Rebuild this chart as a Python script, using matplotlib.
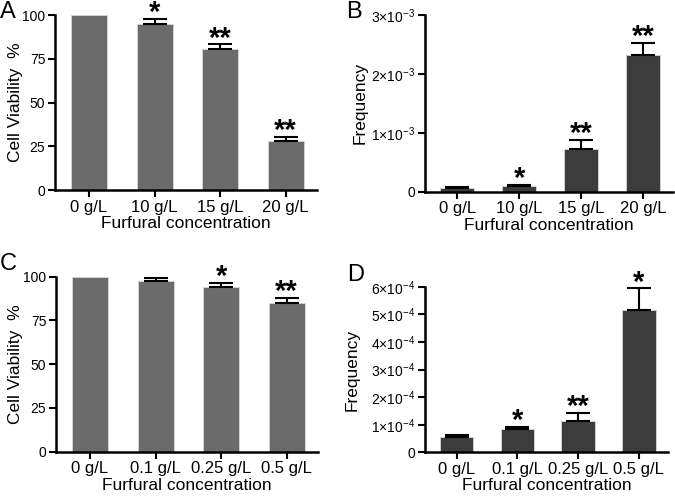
import matplotlib
matplotlib.use("Agg")
import matplotlib.pyplot as plt
import numpy as np

plt.rcParams['font.family'] = ['Liberation Sans', 'DejaVu Sans']
plt.rcParams['mathtext.fontset'] = 'custom'
plt.rcParams['mathtext.rm'] = 'Liberation Sans'
plt.rcParams['mathtext.it'] = 'Liberation Sans:italic'
plt.rcParams['mathtext.bf'] = 'Liberation Sans:bold'

# Data
cats_AB = ["0 g/L", "10 g/L", "15 g/L", "20 g/L"]
cats_CD = ["0 g/L", "0.1 g/L", "0.25 g/L", "0.5 g/L"]

viab_A = [100, 94.9, 80.8, 28.2]
err_A = [0, 2.8, 2.4, 2.3]
sig_A = ["", "*", "**", "**"]

freq_B = [0.058e-3, 0.10e-3, 0.725e-3, 2.32e-3]
err_B = [0.017e-3, 0.02e-3, 0.155e-3, 0.21e-3]
sig_B = ["", "*", "**", "**"]

viab_C = [100, 97.7, 94.3, 84.8]
err_C = [0, 1.5, 1.9, 3.2]
sig_C = ["", "", "*", "**"]

freq_D = [0.54e-4, 0.83e-4, 1.13e-4, 5.16e-4]
err_D = [0.09e-4, 0.10e-4, 0.30e-4, 0.78e-4]
sig_D = ["", "*", "**", "*"]

ticks_A = [0, 25, 50, 75, 100]
ticks_B = [0, 1e-3, 2e-3, 3e-3]
ticklabels_B = ["0", r"$1{\times}10^{-3}$", r"$2{\times}10^{-3}$", r"$3{\times}10^{-3}$"]
ticks_D = [0, 1e-4, 2e-4, 3e-4, 4e-4, 5e-4, 6e-4]
ticklabels_D = ["0"] + [r"$%d{\times}10^{-4}$" % i for i in range(1, 7)]

W, H = 675, 497
fig = plt.figure(figsize=(W / 100, H / 100), dpi=100)


def ax_at(left, top, right, bottom):
    return fig.add_axes([left / W, 1 - bottom / H, (right - left) / W, (bottom - top) / H])


def panel(ax, cats, vals, errs, sigs, color, ylim, ylabel, yticks, yticklabels, ylab_x):
    x = np.arange(len(cats))
    ax.bar(x, vals, width=0.55, color=color, edgecolor='#d8d8d8', linewidth=0.6, zorder=2)
    for xi, v, e, s in zip(x, vals, errs, sigs):
        if e > 0:
            ax.errorbar([xi], [v], yerr=[[0], [e]], fmt='none', ecolor='black',
                        elinewidth=1.5, capsize=8.5, capthick=1.5, zorder=3, clip_on=False)
        if s:
            ax.annotate(s, xy=(xi, v + e), xytext=(0, -1.5), textcoords='offset points',
                        ha='center', va='baseline', fontsize=21, fontweight='bold',
                        annotation_clip=False)
    ax.set_xlim(-0.52, 3.48)
    ax.set_ylim(*ylim)
    ax.set_xticks(x)
    ax.set_xticklabels(cats, fontsize=12)
    ax.set_yticks(yticks)
    ax.set_yticklabels(yticklabels, fontsize=10)
    ax.set_xlabel("Furfural concentration", fontsize=12.5, labelpad=1)
    ax.set_ylabel(ylabel, fontsize=12.5)
    ax.yaxis.set_label_coords(ylab_x, 0.5)
    for sp in ['top', 'right']:
        ax.spines[sp].set_visible(False)
    for sp in ['left', 'bottom']:
        ax.spines[sp].set_linewidth(1.8)
    ax.tick_params(axis='both', direction='out', width=1.5, length=5, pad=2)


axA = ax_at(55, 15, 317, 190)
panel(axA, cats_AB, viab_A, err_A, sig_A, '#6b6b6b', (0, 100), "Cell Viability  %",
      ticks_A, [str(t) for t in ticks_A], -0.122)

axB = ax_at(425, 15, 673, 191.7)
panel(axB, cats_AB, freq_B, err_B, sig_B, '#3c3c3c', (0, 3e-3), "Frequency",
      ticks_B, ticklabels_B, -0.23)

axC = ax_at(56, 276.7, 318, 451.7)
panel(axC, cats_CD, viab_C, err_C, sig_C, '#6b6b6b', (0, 100), "Cell Viability  %",
      ticks_A, [str(t) for t in ticks_A], -0.126)

axD = ax_at(425, 286.7, 668, 452.3)
panel(axD, cats_CD, freq_D, err_D, sig_D, '#3c3c3c', (0, 6e-4), "Frequency",
      ticks_D, ticklabels_D, -0.267)

for lbl, (px, py) in zip("ABCD", [(0, 1), (346, 1), (0, 253), (347, 264)]):
    fig.text(px / W, 1 - py / H, lbl, fontsize=17, ha='left', va='top')

fig.savefig("out.png", dpi=100)
